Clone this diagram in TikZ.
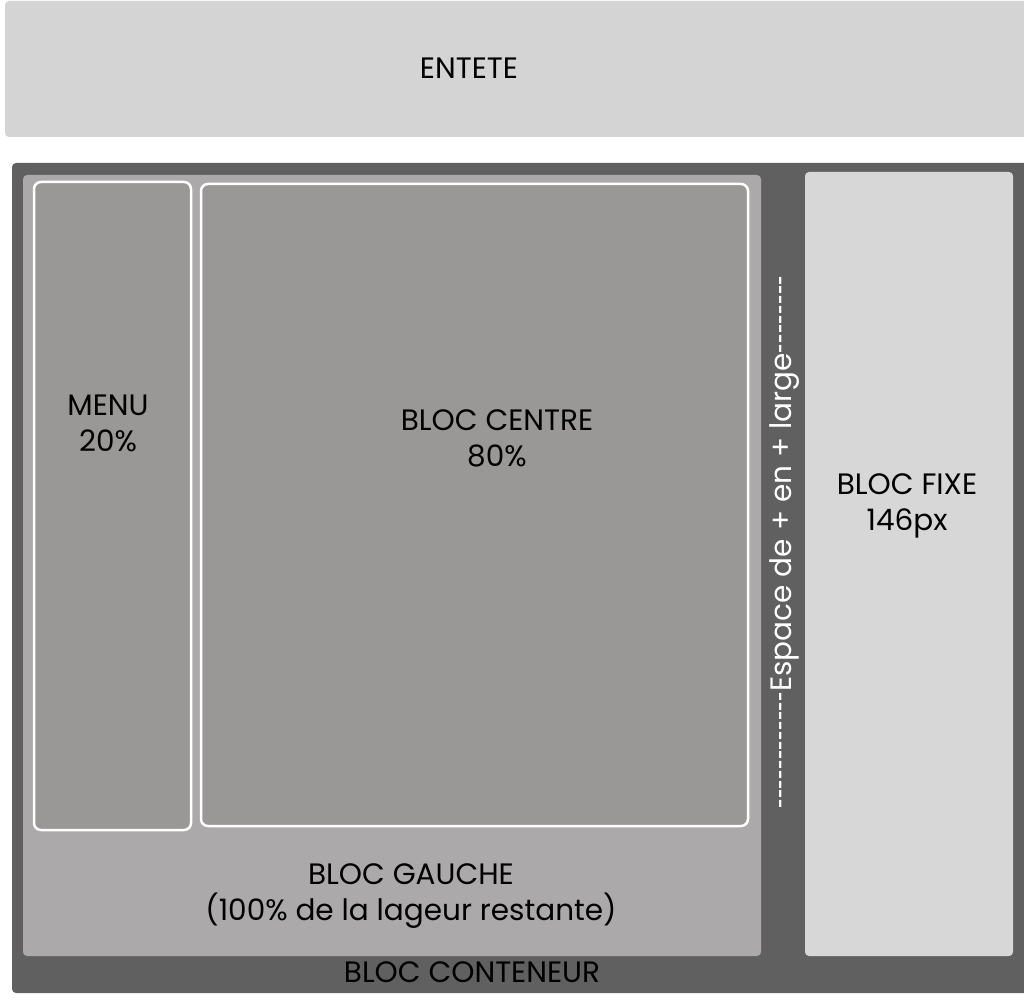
\documentclass[tikz,border=0pt]{standalone}
\usepackage{fontspec}
\setmainfont{Poppins}
\usetikzlibrary{positioning}

\definecolor{entetegris}{HTML}{D4D4D4}
\definecolor{conteneurgris}{HTML}{606060}
\definecolor{gauchegris}{HTML}{ABA9A9}
\definecolor{centregris}{HTML}{999896}
\definecolor{fixegris}{HTML}{D7D7D7}

\newcommand{\tirets}[1]{\foreach \i in {1,...,#1}{\scalebox{0.6}[1]{-}}}

\begin{document}
\begin{tikzpicture}[x=1pt,y=-1pt,
  every node/.style={font=\fontsize{29.5}{36}\selectfont,align=center,inner sep=0pt,outer sep=0pt},
  zone/.style={anchor=north west,rounded corners=4pt},
  sousbloc/.style={zone,fill=centregris,draw=white,line width=2.5pt,rounded corners=7pt}]
\useasboundingbox[fill=white] (0,0) rectangle (1024,1000);
% boxes
\node[zone,fill=entetegris,minimum width=1025pt,minimum height=136pt] (entete) at (5,1) {};
\node[zone,fill=conteneurgris,minimum width=1018pt,minimum height=830pt] (conteneur) at (12,163) {};
\node[zone,fill=gauchegris,minimum width=738pt,minimum height=781pt] (gauche) at (23,175) {};
\node[sousbloc,minimum width=157pt,minimum height=648pt] (menu) at (34,182) {};
\node[sousbloc,minimum width=547pt,minimum height=642pt] (centre) at (201,184) {};
\node[zone,fill=fixegris,minimum width=208pt,minimum height=784pt] (fixe) at (805,172) {};
% labels
\node (tentete) at (469,68) {ENTETE};
\node (tmenu) at (108,423) {MENU\\20\%};
\node (tcentre) at (497,438) {BLOC CENTRE\\80\%};
\node (tfixe) at (907,506) {BLOC FIXE\\146px};
\node (tgauche) at (411,896) {BLOC GAUCHE\\(100\% de la lageur restante)};
\node (tconteneur) at (472,972) {BLOC CONTENEUR};
\node[text=white,rotate=90] (espace) at (785,542) {\tirets{12}Espace de + en + large\tirets{8}};
\end{tikzpicture}
\end{document}
